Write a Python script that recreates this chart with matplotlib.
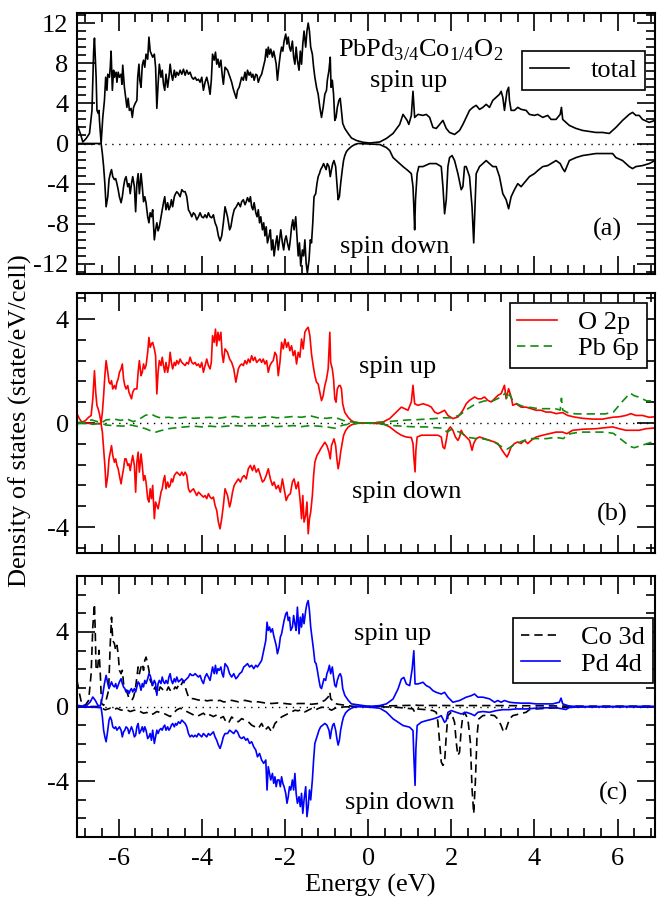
import numpy as np
import matplotlib
matplotlib.use("Agg")
import matplotlib.pyplot as plt
import matplotlib.ticker as ticker

plt.rcParams['font.family'] = ['Liberation Serif', 'DejaVu Serif']
plt.rcParams['mathtext.fontset'] = 'custom'
plt.rcParams['mathtext.rm'] = 'Liberation Serif'
plt.rcParams['axes.unicode_minus'] = False
FS = 19

# ---- panel (a): total DOS ----
e_tot_up = [-7.00, -6.92, -6.86, -6.78, -6.70, -6.64, -6.60, -6.58, -6.54, -6.52, -6.49, -6.47, -6.46, -6.42,
            -6.38, -6.34, -6.31, -6.28, -6.26, -6.22, -6.20, -6.18, -6.15, -6.12, -6.10, -6.06, -6.04, -6.01,
            -5.98, -5.94, -5.92, -5.90, -5.86, -5.83, -5.80, -5.77, -5.74, -5.70, -5.67, -5.64, -5.60, -5.56,
            -5.54, -5.51, -5.49, -5.46, -5.43, -5.40, -5.37, -5.34, -5.30, -5.27, -5.24, -5.21, -5.18, -5.14,
            -5.11, -5.08, -5.05, -5.02, -4.98, -4.95, -4.92, -4.89, -4.86, -4.82, -4.79, -4.76, -4.73, -4.70,
            -4.66, -4.63, -4.60, -4.56, -4.52, -4.48, -4.44, -4.40, -4.36, -4.32, -4.28, -4.24, -4.20, -4.16,
            -4.12, -4.08, -4.04, -4.00, -3.96, -3.92, -3.88, -3.84, -3.80, -3.77, -3.74, -3.70, -3.67, -3.64,
            -3.61, -3.58, -3.54, -3.51, -3.48,
            -3.44, -3.38, -3.32, -3.28, -3.24, -3.20, -3.17, -3.14, -3.10, -3.07, -3.04, -3.00, -2.96, -2.93,
            -2.90, -2.86, -2.83, -2.80, -2.77, -2.74, -2.70, -2.67, -2.64, -2.60, -2.56, -2.52, -2.48, -2.45,
            -2.42, -2.40, -2.37, -2.34, -2.30, -2.27, -2.24, -2.21, -2.18, -2.14, -2.11, -2.08, -2.05, -2.02,
            -1.98, -1.95, -1.92, -1.89, -1.86, -1.82, -1.79, -1.76, -1.73, -1.70, -1.66, -1.63, -1.60, -1.57,
            -1.54, -1.50, -1.47, -1.44, -1.41, -1.38, -1.34, -1.31, -1.28, -1.24, -1.20, -1.16, -1.12, -1.08,
            -1.04, -1.00, -0.98, -0.94, -0.91, -0.89, -0.86, -0.83, -0.80, -0.77, -0.74, -0.70, -0.67, -0.64,
            -0.61, -0.56, -0.48, -0.40, -0.28, -0.12, 0.04, 0.28, 0.44, 0.60, 0.76, 0.84, 0.94, 0.98, 1.04,
            1.08, 1.12, 1.20, 1.32, 1.40, 1.48, 1.56, 1.64, 1.72, 1.80, 1.88, 1.96, 2.08, 2.20, 2.28, 2.36,
            2.44, 2.52, 2.60, 2.68, 2.76, 2.84, 2.92, 3.00, 3.08, 3.16, 3.20, 3.24, 3.28, 3.34, 3.38, 3.40,
            3.44, 3.52, 3.60, 3.68, 3.80, 3.88, 4.00, 4.08, 4.20, 4.32, 4.40, 4.52, 4.62, 4.65, 4.68, 4.76,
            4.84, 5.00, 5.16, 5.32, 5.48, 5.64, 5.80, 5.96, 6.12, 6.20, 6.28, 6.36, 6.44, 6.52, 6.60, 6.76, 6.90]
tot_up = [1.9, 1.0, 0.15, 0.5, 1.0, 3.3, 9.2, 10.5, 6.6, 3.3, 3.0, 3.3, 2.3, 0.0,
          2.6, 4.3, 6.6, 5.3, 6.9, 6.6, 7.6, 9.2, 5.3, 7.3, 6.6, 7.1, 6.1, 7.1,
          6.6, 6.9, 5.9, 7.8, 5.6, 4.6, 3.6, 4.5, 3.3, 3.5, 2.6, 3.6, 4.0, 4.3,
          6.6, 7.9, 6.3, 5.6, 7.8, 8.3, 7.6, 8.9, 8.4, 10.6, 9.2, 8.9, 8.6, 8.9,
          7.6, 3.5, 5.9, 7.9, 6.6, 7.3, 5.9, 5.3, 6.9, 5.6, 6.6, 7.9, 6.9, 6.3,
          7.3, 6.6, 7.1, 6.8, 7.3, 6.9, 7.4, 6.8, 7.3, 6.9, 7.1, 6.6, 6.4, 6.6,
          6.3, 6.4, 6.1, 6.6, 5.3, 6.1, 6.6, 5.9, 4.9, 6.3, 8.9, 8.3, 9.1, 7.9,
          8.4, 7.6, 8.3, 6.9, 5.9,
          7.6, 7.3, 6.6, 6.1, 5.4, 4.9, 4.5, 5.3, 5.6, 6.1, 6.6, 6.3, 7.1, 6.3,
          7.3, 6.8, 7.1, 6.6, 6.9, 6.3, 6.9, 6.8, 6.1, 6.6, 6.9, 7.6, 8.3, 9.4,
          8.6, 9.6, 8.9, 9.4, 8.6, 9.2, 8.6, 7.9, 6.3, 7.9, 8.9, 9.6, 9.2, 10.2,
          10.9, 9.9, 10.6, 9.6, 9.2, 10.2, 8.6, 7.9, 9.6, 8.3, 7.3, 9.2, 7.9, 9.9,
          11.2, 9.6, 11.2, 12.0, 11.2, 9.6, 8.9, 7.6, 6.6, 5.6, 4.9, 3.6, 2.6, 3.6,
          4.9, 5.3, 6.3, 7.3, 8.6, 5.6, 6.3, 4.9, 2.3, 2.6, 3.6, 4.3, 4.5, 3.3,
          2.0, 1.5, 1.0, 0.55, 0.3, 0.12, 0.05, 0.15, 0.5, 1.0, 1.9, 2.9, 2.3, 1.9, 2.8,
          5.2, 2.6, 2.9, 2.8, 2.9, 2.6, 1.6, 1.5, 1.9, 2.3, 1.5, 1.1, 0.9, 1.3, 1.9, 2.6,
          3.3, 3.6, 3.8, 3.4, 3.6, 3.9, 3.6, 4.3, 4.6, 4.9, 5.2, 4.6, 3.3, 5.2, 5.6, 4.3,
          3.3, 3.3, 3.6, 3.4, 3.3, 2.9, 2.8, 2.9, 2.6, 2.8, 2.4, 2.4, 2.9, 3.6, 2.4, 2.1,
          1.8, 1.5, 1.3, 1.2, 1.1, 1.1, 1.0, 1.6, 2.3, 2.6, 2.9, 3.1, 2.8, 2.8, 2.4, 2.1, 2.3]

e_tot_dn = [-7.00, -6.42, -6.39, -6.36, -6.33, -6.30, -6.26, -6.23, -6.20, -6.17, -6.14, -6.10, -6.07, -6.04,
            -6.01, -5.98, -5.94, -5.91, -5.88, -5.85, -5.82, -5.78, -5.75, -5.72, -5.69, -5.66, -5.62, -5.59,
            -5.56, -5.53, -5.50, -5.46, -5.43, -5.40, -5.37, -5.34, -5.30, -5.27, -5.24, -5.21, -5.18, -5.14,
            -5.11, -5.08, -5.05, -5.02, -4.98, -4.95, -4.92, -4.89, -4.86, -4.82, -4.79, -4.76, -4.73, -4.70,
            -4.66, -4.63, -4.60, -4.56, -4.52, -4.48, -4.44, -4.40, -4.36, -4.32, -4.28, -4.24, -4.20, -4.16,
            -4.12, -4.08, -4.04, -4.00, -3.96, -3.92, -3.88, -3.84, -3.80, -3.76, -3.72, -3.68, -3.64, -3.60,
            -3.56, -3.52, -3.48,
            -3.44, -3.38, -3.33, -3.30, -3.26, -3.22, -3.17, -3.12, -3.07, -3.04, -3.00, -2.96, -2.93, -2.90,
            -2.86, -2.83, -2.80, -2.77, -2.74, -2.70, -2.67, -2.64, -2.61, -2.58, -2.54, -2.51, -2.48, -2.45,
            -2.42, -2.38, -2.35, -2.32, -2.29, -2.26, -2.22, -2.19, -2.16, -2.13, -2.10, -2.06, -2.03, -2.00,
            -1.97, -1.94, -1.90, -1.87, -1.84, -1.81, -1.78, -1.74, -1.71, -1.68, -1.65, -1.62, -1.58, -1.55,
            -1.52, -1.49, -1.46, -1.42, -1.39, -1.36, -1.33, -1.30, -1.26, -1.23, -1.20, -1.17, -1.14, -1.10,
            -1.07, -1.04, -1.01, -0.98, -0.94, -0.91, -0.88, -0.85, -0.82, -0.78, -0.75, -0.72, -0.69, -0.66,
            -0.62, -0.59, -0.56, -0.52, -0.48, -0.40, -0.32, -0.24, 0.28, 0.44, 0.52, 0.60, 0.68, 0.76, 0.84,
            0.96, 1.04, 1.08, 1.10, 1.12, 1.14, 1.18, 1.22, 1.32, 1.48, 1.64, 1.76, 1.80, 1.84, 1.88, 1.92,
            1.96, 2.02, 2.08, 2.16, 2.24, 2.28, 2.32, 2.36, 2.44, 2.50, 2.54, 2.57, 2.60, 2.68, 2.76, 2.84,
            2.92, 3.00, 3.08, 3.16, 3.24, 3.32, 3.38, 3.44, 3.52, 3.60, 3.68, 3.80, 3.88, 4.00, 4.08, 4.20,
            4.32, 4.40, 4.52, 4.62, 4.68, 4.73, 4.78, 4.84, 5.00, 5.16, 5.32, 5.48, 5.64, 5.80, 5.88, 5.96,
            6.12, 6.28, 6.36, 6.44, 6.60, 6.76, 6.90]
tot_dn = [0.0, 0.0, -1.0, -2.3, -4.0, -6.3, -5.3, -3.6, -3.0, -2.6, -3.3, -3.6, -3.5, -4.0,
          -4.6, -5.3, -5.9, -5.3, -4.3, -3.6, -3.3, -4.3, -4.0, -5.0, -4.0, -3.3, -4.3, -6.8,
          -4.0, -3.0, -5.0, -3.0, -4.3, -5.8, -5.3, -5.9, -7.3, -7.9, -6.9, -7.3, -6.6, -9.6,
          -8.6, -7.9, -8.7, -8.3, -7.3, -6.6, -5.9, -5.3, -6.6, -5.9, -6.6, -6.3, -5.6, -6.3,
          -5.3, -5.0, -4.8, -5.0, -5.3, -4.6, -4.8, -4.8, -5.3, -6.6, -6.9, -7.3, -6.9, -7.1,
          -7.6, -7.3, -6.9, -7.3, -7.4, -7.1, -7.4, -6.9, -7.3, -7.4, -7.1, -7.9, -8.3, -9.2,
          -9.7, -9.2, -7.9,
          -6.3, -7.3, -8.6, -8.3, -7.3, -6.6, -6.3, -5.9, -6.3, -5.8, -5.6, -6.1, -5.8, -5.4,
          -5.8, -5.3, -6.3, -6.6, -5.9, -6.9, -7.3, -6.6, -7.9, -7.3, -8.6, -7.9, -9.2, -8.3,
          -9.9, -9.2, -8.6, -10.6, -9.6, -11.2, -9.9, -9.2, -10.6, -9.6, -8.6, -9.9, -10.6, -9.6,
          -9.2, -9.9, -10.6, -9.6, -8.3, -7.6, -8.6, -7.3, -9.2, -11.2, -9.9, -12.2, -10.6, -11.2,
          -9.6, -11.9, -12.9, -11.6, -9.6, -9.9, -7.9, -5.3, -5.0, -4.0, -3.3, -3.0, -2.6, -2.3,
          -2.0, -2.3, -2.6, -2.0, -2.3, -3.3, -2.6, -2.0, -1.7, -2.3, -4.0, -5.6, -5.3, -4.0,
          -2.6, -1.7, -1.2, -0.8, -0.6, -0.3, -0.1, 0.0, -0.1, -0.4, -0.7, -1.4, -1.7, -2.0, -2.3,
          -2.7, -3.0, -4.3, -6.3, -8.6, -5.6, -3.0, -2.3, -2.3, -2.0, -2.0, -2.3, -4.3, -7.0, -5.6, -2.3,
          -1.4, -1.2, -1.7, -3.0, -4.6, -4.3, -2.3, -2.3, -3.3, -6.3, -9.9, -6.3, -3.0, -2.3, -2.0, -1.7,
          -2.0, -2.3, -2.3, -3.3, -5.0, -5.6, -6.5, -5.3, -4.6, -4.0, -4.3, -3.7, -3.3, -3.0, -2.7, -2.3,
          -2.2, -2.0, -1.7, -2.0, -2.5, -2.8, -2.3, -1.7, -1.4, -1.2, -1.1, -1.0, -1.0, -1.0, -1.0, -1.4,
          -1.7, -2.3, -2.5, -2.3, -2.2, -2.0, -1.7]

# ---- panel (b): O 2p and Pb 6p ----
e_o_up = [-7.00, -6.94, -6.88, -6.80, -6.72, -6.66, -6.62, -6.58, -6.55, -6.52, -6.49, -6.46, -6.42, -6.39,
          -6.36, -6.33, -6.30, -6.26, -6.23, -6.20, -6.17, -6.14, -6.10, -6.07, -6.04, -6.01, -5.98, -5.94,
          -5.91, -5.88, -5.85, -5.82, -5.78, -5.75, -5.72, -5.69, -5.66, -5.62, -5.59, -5.56, -5.53, -5.50,
          -5.46, -5.43, -5.40, -5.37, -5.34, -5.30, -5.27, -5.24, -5.21, -5.18, -5.14, -5.11, -5.08, -5.05,
          -5.02, -4.98, -4.95, -4.92, -4.89, -4.86, -4.82, -4.79, -4.76, -4.73, -4.70, -4.66, -4.63, -4.60,
          -4.56, -4.52, -4.48, -4.44, -4.40, -4.36, -4.32, -4.28, -4.24, -4.20, -4.16, -4.12, -4.08, -4.04,
          -4.00, -3.96, -3.92, -3.88, -3.84, -3.80, -3.77, -3.74, -3.70, -3.67, -3.64, -3.61, -3.58, -3.54,
          -3.51, -3.48,
          -3.44, -3.38, -3.33, -3.28, -3.23, -3.18, -3.15, -3.12, -3.08, -3.04, -3.00, -2.96, -2.92, -2.88,
          -2.84, -2.80, -2.76, -2.72, -2.68, -2.64, -2.60, -2.56, -2.52, -2.48, -2.44, -2.40, -2.36, -2.32,
          -2.28, -2.24, -2.20, -2.16, -2.12, -2.08, -2.04, -2.00, -1.96, -1.92, -1.88, -1.84, -1.80, -1.76,
          -1.72, -1.68, -1.64, -1.60, -1.56, -1.52, -1.48, -1.44, -1.40, -1.36, -1.32, -1.28, -1.24, -1.20,
          -1.16, -1.12, -1.08, -1.04, -1.00, -0.96, -0.92, -0.90, -0.86, -0.83, -0.80, -0.77, -0.74, -0.70,
          -0.67, -0.64, -0.61, -0.56, -0.48, -0.40, -0.32, -0.24, -0.12, 0.12, 0.36, 0.52, 0.68, 0.80, 0.88,
          0.96, 1.04, 1.08, 1.12, 1.20, 1.32, 1.44, 1.52, 1.60, 1.68, 1.76, 1.84, 1.92, 2.04, 2.16, 2.28,
          2.36, 2.44, 2.56, 2.64, 2.72, 2.80, 2.88, 2.96, 3.04, 3.12, 3.20, 3.28, 3.32, 3.38, 3.44, 3.48,
          3.56, 3.68, 3.80, 3.92, 4.04, 4.16, 4.28, 4.40, 4.52, 4.68, 4.80, 4.96, 5.16, 5.40, 5.64, 5.88,
          6.04, 6.20, 6.32, 6.44, 6.60, 6.76, 6.90]
o_up = [0.35, 0.16, 0.03, 0.09, 0.22, 0.29, 0.93, 2.01, 1.18, 0.67, 0.54, 0.35, 0.0, 0.41,
        1.05, 1.82, 2.40, 1.95, 1.57, 1.50, 1.63, 1.31, 1.44, 1.31, 1.57, 1.69, 1.95, 2.08,
        2.27, 1.69, 1.44, 1.31, 1.44, 1.18, 1.05, 0.93, 1.18, 1.31, 1.31, 1.31, 1.95, 2.40,
        1.82, 1.95, 2.27, 2.08, 2.21, 2.72, 3.29, 2.91, 3.04, 3.10, 2.85, 2.59, 1.12, 1.95,
        2.40, 2.21, 2.53, 2.21, 1.95, 2.33, 1.95, 2.21, 2.72, 2.33, 2.08, 2.33, 2.21, 2.40,
        2.27, 2.46, 2.33, 2.27, 2.21, 2.33, 2.27, 2.53, 2.33, 2.27, 2.33, 2.21, 2.27, 2.14,
        2.33, 1.95, 2.21, 2.46, 2.21, 2.08, 2.33, 3.36, 3.10, 3.61, 2.97, 3.49, 3.17, 3.49,
        2.65, 2.33,
        2.85, 2.72, 2.46, 2.33, 2.08, 1.57, 1.82, 2.08, 2.21, 2.27, 2.21, 2.40, 2.27, 2.46,
        2.33, 2.59, 2.40, 2.53, 2.33, 2.40, 2.46, 2.33, 2.46, 2.27, 2.40, 1.95, 2.21, 2.33,
        2.40, 2.72, 2.59, 1.82, 2.33, 3.10, 2.85, 3.23, 2.91, 3.10, 2.78, 2.97, 2.59, 2.78,
        2.27, 2.72, 2.53, 3.23, 2.85, 3.49, 3.61, 3.68, 3.36, 2.65, 2.21, 1.82, 1.57, 1.50,
        1.18, 0.86, 1.05, 1.44, 1.69, 2.08, 3.49, 2.33, 2.08, 1.69, 0.93, 0.80, 1.31, 1.44,
        1.44, 1.31, 0.73, 0.41, 0.22, 0.09, 0.03, 0.01, 0.0, 0.0, 0.04, 0.17, 0.42, 0.61, 0.55,
        0.49, 0.81, 1.45, 0.74, 0.68, 0.74, 0.68, 0.61, 0.42, 0.36, 0.42, 0.49, 0.29, 0.17, 0.23, 0.49,
        0.74, 0.87, 1.00, 0.93, 0.93, 1.00, 0.87, 0.81, 0.93, 1.06, 1.13, 1.45, 0.93, 1.32, 1.00, 0.68,
        0.74, 0.61, 0.61, 0.55, 0.49, 0.49, 0.42, 0.42, 0.36, 0.40, 0.29, 0.23, 0.18, 0.15, 0.15, 0.22,
        0.24, 0.29, 0.36, 0.29, 0.29, 0.22, 0.24]

e_o_dn = [-7.00, -6.42, -6.39, -6.36, -6.33, -6.30, -6.26, -6.23, -6.20, -6.17, -6.14, -6.10, -6.07, -6.04,
          -6.01, -5.98, -5.94, -5.91, -5.88, -5.85, -5.82, -5.78, -5.75, -5.72, -5.69, -5.66, -5.62, -5.59,
          -5.56, -5.53, -5.50, -5.46, -5.43, -5.40, -5.37, -5.34, -5.30, -5.27, -5.24, -5.21, -5.18, -5.14,
          -5.11, -5.08, -5.05, -5.02, -4.98, -4.95, -4.92, -4.89, -4.86, -4.82, -4.79, -4.76, -4.73, -4.70,
          -4.66, -4.63, -4.60, -4.56, -4.52, -4.48, -4.44, -4.40, -4.36, -4.32, -4.28, -4.24, -4.20, -4.16,
          -4.12, -4.08, -4.04, -4.00, -3.96, -3.92, -3.88, -3.84, -3.80, -3.76, -3.72, -3.68, -3.64, -3.60,
          -3.56, -3.52, -3.48,
          -3.44, -3.38, -3.33, -3.30, -3.26, -3.22, -3.17, -3.12, -3.07, -3.02, -2.98, -2.93, -2.88, -2.83,
          -2.78, -2.74, -2.69, -2.64, -2.59, -2.54, -2.50, -2.45, -2.40, -2.35, -2.30, -2.26, -2.21, -2.16,
          -2.11, -2.06, -2.02, -1.97, -1.92, -1.87, -1.82, -1.78, -1.73, -1.68, -1.63, -1.60, -1.57, -1.54,
          -1.50, -1.47, -1.44, -1.41, -1.38, -1.34, -1.31, -1.28, -1.23, -1.18, -1.14, -1.09, -1.04, -0.99,
          -0.94, -0.91, -0.88, -0.85, -0.82, -0.78, -0.75, -0.72, -0.69, -0.66, -0.62, -0.59, -0.54, -0.48,
          -0.40, -0.32, -0.24, 0.12, 0.36, 0.52, 0.68, 0.80, 0.92, 1.04, 1.08, 1.10, 1.13, 1.15, 1.18,
          1.28, 1.48, 1.68, 1.76, 1.80, 1.84, 1.88, 1.92, 1.98, 2.04, 2.10, 2.16, 2.20, 2.24, 2.28, 2.36,
          2.44, 2.50, 2.54, 2.60, 2.68, 2.80, 2.92, 3.04, 3.12, 3.20, 3.28, 3.34, 3.38, 3.44, 3.52, 3.60,
          3.68, 3.76, 3.84, 3.92, 4.04, 4.20, 4.36, 4.52, 4.68, 4.78, 4.92, 5.16, 5.48, 5.72, 5.88, 6.04,
          6.20, 6.36, 6.52, 6.68, 6.90]
o_dn = [0.0, -0.03, -0.35, -0.99, -1.63, -2.47, -2.02, -1.38, -1.12, -0.87, -1.25, -1.51, -1.38, -1.63,
        -1.76, -2.02, -2.34, -2.02, -1.76, -1.38, -1.38, -1.63, -1.57, -1.83, -1.51, -1.25, -1.63, -2.66,
        -1.51, -1.12, -1.89, -1.19, -1.63, -2.21, -2.02, -2.27, -2.91, -3.04, -2.53, -2.91, -2.40, -3.68,
        -3.04, -3.17, -3.30, -3.04, -2.66, -2.53, -2.21, -2.02, -2.53, -2.27, -2.47, -2.40, -2.15, -2.27,
        -2.02, -1.95, -1.89, -1.95, -2.02, -1.89, -2.02, -1.89, -2.02, -2.53, -2.66, -2.59, -2.53, -2.66,
        -2.79, -2.66, -2.72, -2.79, -2.85, -2.79, -2.91, -2.72, -2.85, -2.91, -2.85, -3.17, -3.36, -3.81,
        -4.07, -3.68, -3.17,
        -2.53, -2.79, -3.23, -3.04, -2.66, -2.40, -2.27, -2.15, -2.27, -2.08, -2.02, -2.15, -1.76, -1.63,
        -1.83, -1.63, -1.89, -1.76, -2.02, -2.27, -2.21, -2.02, -1.76, -2.15, -2.40, -2.27, -2.53, -2.40,
        -2.66, -2.15, -2.53, -2.98, -2.79, -2.72, -2.27, -2.15, -2.53, -2.27, -3.04, -3.68, -2.79, -3.81,
        -3.55, -3.04, -4.26, -3.68, -3.43, -2.79, -2.02, -1.51, -1.25, -1.12, -0.99, -0.87, -0.74, -0.87,
        -1.12, -1.38, -0.87, -0.74, -0.61, -0.87, -1.38, -1.76, -1.51, -1.12, -0.74, -0.48, -0.29, -0.16,
        -0.07, -0.03, 0.0, -0.01, -0.03, -0.15, -0.35, -0.47, -0.54, -0.56, -0.79, -1.31, -1.88, -1.05, -0.54,
        -0.47, -0.47, -0.47, -0.54, -0.92, -0.99, -0.67, -0.28, -0.15, -0.28, -0.54, -0.67, -0.54, -0.28, -0.41, -0.54,
        -0.67, -1.05, -0.79, -0.60, -0.54, -0.60, -0.67, -0.73, -0.79, -0.99, -1.18, -1.31, -1.18, -0.92, -0.79, -0.73,
        -0.79, -0.67, -0.79, -0.67, -0.54, -0.47, -0.41, -0.35, -0.35, -0.41, -0.28, -0.24, -0.22, -0.18, -0.15, -0.22,
        -0.28, -0.28, -0.28, -0.22, -0.19]

e_pb_up = [-7.0, -6.8, -6.65, -6.5, -6.42, -6.3, -6.1, -5.95, -5.8, -5.65, -5.5, -5.35, -5.2, -5.1, -5.0,
           -4.8, -4.6, -4.4, -4.2, -4.0, -3.8, -3.6, -3.4, -3.2, -3.0, -2.8, -2.6, -2.4, -2.2, -2.0, -1.8,
           -1.6, -1.4, -1.2, -1.0, -0.8, -0.6, -0.4, -0.2, 0.0, 0.2, 0.4, 0.6, 0.8, 1.0, 1.2, 1.4, 1.6,
           1.8, 2.0, 2.2, 2.4, 2.6, 2.8, 3.0, 3.2, 3.3, 3.35, 3.4, 3.5, 3.7, 3.9, 4.1, 4.3, 4.5, 4.62,
           4.65, 4.68, 4.8, 5.0, 5.3, 5.5, 5.7, 5.9, 6.1, 6.3, 6.4, 6.5, 6.7, 6.9]
pb_up = [0.02, 0.03, 0.12, 0.05, 0.0, 0.12, 0.15, 0.1, 0.16, 0.05, 0.15, 0.3, 0.33, 0.25, 0.2,
         0.22, 0.18, 0.22, 0.18, 0.2, 0.22, 0.18, 0.23, 0.25, 0.2, 0.22, 0.2, 0.25, 0.2, 0.22, 0.25,
         0.22, 0.28, 0.2, 0.18, 0.22, 0.1, 0.04, 0.01, 0.0, 0.02, 0.04, 0.07, 0.1, 0.12, 0.13, 0.15, 0.17,
         0.2, 0.2, 0.3, 0.55, 0.75, 0.85, 0.85, 1.0, 1.15, 0.9, 1.1, 0.8, 0.65, 0.6, 0.55, 0.55, 0.55, 0.5,
         0.95, 0.5, 0.4, 0.35, 0.35, 0.35, 0.35, 0.42, 0.8, 1.15, 1.05, 1.0, 0.85, 0.85]

e_pb_dn = [-7.0, -6.8, -6.6, -6.42, -6.3, -6.1, -5.9, -5.7, -5.5, -5.35, -5.2, -5.1, -5.0, -4.8, -4.6,
           -4.4, -4.2, -4.0, -3.8, -3.6, -3.4, -3.2, -3.0, -2.8, -2.6, -2.4, -2.2, -2.0, -1.8, -1.6, -1.4,
           -1.2, -1.0, -0.8, -0.6, -0.4, -0.2, 0.0, 0.2, 0.4, 0.6, 0.8, 1.0, 1.2, 1.4, 1.6, 1.8, 1.9,
           2.0, 2.2, 2.4, 2.6, 2.8, 3.0, 3.2, 3.35, 3.5, 3.7, 3.9, 4.1, 4.3, 4.5, 4.7, 4.78, 4.9, 5.1,
           5.4, 5.7, 5.9, 6.1, 6.3, 6.4, 6.6, 6.9]
pb_dn = [-0.02, -0.02, -0.05, 0.0, -0.08, -0.1, -0.12, -0.08, -0.15, -0.22, -0.32, -0.35, -0.3, -0.22, -0.18,
         -0.15, -0.12, -0.15, -0.12, -0.15, -0.12, -0.1, -0.12, -0.1, -0.12, -0.1, -0.14, -0.12, -0.1, -0.14, -0.1,
         -0.12, -0.15, -0.2, -0.08, -0.03, -0.01, 0.0, -0.02, -0.06, -0.1, -0.12, -0.14, -0.15, -0.15, -0.18, -0.2, -0.35,
         -0.25, -0.35, -0.55, -0.6, -0.62, -0.7, -0.9, -1.0, -0.85, -0.7, -0.6, -0.6, -0.6, -0.55, -0.6, -0.45, -0.4, -0.35,
         -0.35, -0.35, -0.4, -0.65, -0.9, -0.95, -0.85, -0.7]

# ---- panel (c): Co 3d and Pd 4d ----
e_co_up = [-7.00, -6.94, -6.88, -6.80, -6.72, -6.66, -6.62, -6.58, -6.56, -6.54, -6.50, -6.47, -6.44, -6.41,
           -6.36, -6.30, -6.24, -6.20, -6.17, -6.14, -6.10, -6.07, -6.04, -6.01, -5.98, -5.94, -5.91, -5.88,
           -5.84, -5.80, -5.76, -5.72, -5.68, -5.64, -5.60, -5.56, -5.53, -5.50, -5.46, -5.43, -5.40, -5.37,
           -5.34, -5.30, -5.27, -5.24, -5.20, -5.16, -5.12, -5.08, -5.04, -5.00, -4.96, -4.92, -4.88, -4.84,
           -4.80, -4.76, -4.72, -4.68, -4.64, -4.60, -4.56, -4.52, -4.48, -4.44, -4.40, -4.36, -4.32, -4.28,
           -4.20, -4.12, -4.04, -3.96, -3.88, -3.80, -3.72, -3.64, -3.56, -3.48,
           -3.44, -3.28, -3.12, -2.96, -2.80, -2.64, -2.48, -2.32, -2.16, -2.00, -1.84, -1.68, -1.52, -1.36,
           -1.20, -1.12, -1.04, -0.96, -0.92, -0.90, -0.86, -0.80, -0.72, -0.56, -0.40, -0.24, 0.0, 0.4,
           1.0, 1.1, 1.2, 2.0, 3.0, 4.0, 5.0, 6.9]
co_up = [1.40, 0.69, 0.07, 0.07, 0.33, 1.76, 4.26, 5.50, 3.90, 1.94, 2.12, 3.01, 1.76, 0.16,
         0.07, 0.33, 0.87, 3.37, 4.79, 3.54, 3.37, 3.01, 3.28, 2.83, 1.94, 1.76, 1.94, 1.23,
         0.96, 0.78, 0.51, 0.42, 0.33, 0.51, 0.87, 1.58, 2.12, 1.76, 2.12, 2.30, 1.94, 2.47,
         2.65, 2.30, 1.94, 1.40, 1.23, 0.87, 1.05, 0.69, 0.78, 1.05, 0.96, 0.87, 0.96, 0.87,
         1.05, 0.87, 0.96, 0.87, 1.05, 0.96, 1.14, 1.05, 1.23, 1.40, 1.05, 0.78, 0.51, 0.42,
         0.42, 0.37, 0.33, 0.37, 0.30, 0.33, 0.33, 0.30, 0.33, 0.25,
         0.25, 0.33, 0.25, 0.33, 0.25, 0.25, 0.19, 0.16, 0.19, 0.16, 0.12, 0.16, 0.16, 0.12,
         0.16, 0.25, 0.33, 0.51, 0.78, 0.42, 0.33, 0.16, 0.12, 0.07, 0.02, 0.0, 0.0, 0.03,
         0.06, 0.1, 0.06, 0.05, 0.05, 0.04, 0.02, 0.01]

e_co_dn = [-7.00, -6.44, -6.40, -6.32, -6.20, -6.12, -6.04, -5.96, -5.88, -5.80, -5.72, -5.64, -5.56, -5.48,
           -5.40, -5.32, -5.24, -5.16, -5.08, -5.00, -4.92, -4.84, -4.76, -4.68, -4.60, -4.52, -4.44, -4.36,
           -4.28, -4.20, -4.12, -4.04, -3.96, -3.88, -3.80, -3.72, -3.64, -3.56, -3.48,
           -3.44, -3.36, -3.28, -3.20, -3.12, -3.04, -2.96, -2.88, -2.80, -2.72, -2.64, -2.56, -2.48, -2.40,
           -2.32, -2.24, -2.16, -2.08, -2.00, -1.92, -1.84, -1.76, -1.68, -1.60, -1.52, -1.44, -1.36, -1.28,
           -1.20, -1.12, -1.04, -0.96, -0.88, -0.80, -0.72, -0.56, -0.24, 0.04, 0.68, 1.08, 1.12, 1.16,
           1.40, 1.56, 1.64, 1.68, 1.72, 1.76, 1.80, 1.84, 1.88, 1.92, 2.00, 2.08, 2.12, 2.16, 2.20, 2.24,
           2.28, 2.32, 2.40, 2.46, 2.50, 2.54, 2.58, 2.62, 2.66, 2.76, 2.92, 3.04, 3.12, 3.20, 3.26, 3.32,
           3.40, 3.48, 3.64, 3.80, 3.88, 4.04, 4.36, 4.68, 5.16, 6.90]
co_dn = [0.0, 0.0, -0.09, -0.18, -0.09, -0.18, -0.09, -0.18, -0.21, -0.18, -0.27, -0.21, -0.18, -0.27,
         -0.36, -0.32, -0.45, -0.39, -0.27, -0.32, -0.36, -0.45, -0.54, -0.36, -0.18, -0.09, -0.18, -0.27,
         -0.36, -0.45, -0.54, -0.45, -0.36, -0.54, -0.45, -0.54, -0.45, -0.63, -0.54,
         -0.73, -0.91, -0.56, -0.73, -0.82, -0.65, -0.73, -0.82, -1.00, -1.09, -1.18, -0.91, -1.27, -1.09,
         -1.36, -0.91, -0.73, -0.56, -0.47, -0.38, -0.29, -0.20, -0.23, -0.16, -0.29, -0.20, -0.11, -0.20,
         -0.11, -0.04, -0.05, -0.10, -0.20, -0.10, -0.05, -0.02, 0.0, 0.0, -0.04, -0.13, -0.30, -0.13,
         -0.17, -0.22, -0.31, -0.85, -1.92, -2.98, -3.16, -2.98, -1.56, -0.49, -0.31, -0.85, -1.92, -2.63, -2.45, -1.20,
         -0.49, -0.31, -0.67, -1.92, -4.41, -5.75, -4.05, -1.56, -0.67, -0.49, -0.45, -0.49, -0.67, -1.02, -1.38, -1.20,
         -0.67, -0.49, -0.40, -0.31, -0.17, -0.13, -0.09, -0.05, -0.02, 0.0]

e_pd_up = [-7.00, -6.88, -6.76, -6.68, -6.62, -6.56, -6.50, -6.44, -6.39, -6.34, -6.30, -6.26, -6.23, -6.20,
           -6.17, -6.14, -6.10, -6.07, -6.04, -6.01, -5.98, -5.94, -5.91, -5.88, -5.85, -5.82, -5.78, -5.75,
           -5.72, -5.69, -5.66, -5.62, -5.59, -5.56, -5.53, -5.50, -5.46, -5.43, -5.40, -5.37, -5.34, -5.30,
           -5.27, -5.24, -5.21, -5.18, -5.14, -5.11, -5.08, -5.05, -5.02, -4.98, -4.95, -4.92, -4.89, -4.86,
           -4.82, -4.79, -4.76, -4.73, -4.70, -4.66, -4.63, -4.60, -4.56, -4.52, -4.48, -4.44, -4.40, -4.36,
           -4.32, -4.28, -4.24, -4.20, -4.16, -4.12, -4.08, -4.04, -4.00, -3.96, -3.92, -3.88, -3.84, -3.80,
           -3.77, -3.74, -3.70, -3.67, -3.64, -3.61, -3.58, -3.54, -3.51, -3.48,
           -3.44, -3.38, -3.33, -3.28, -3.23, -3.18, -3.14, -3.09, -3.04, -2.99, -2.94, -2.90, -2.85, -2.80,
           -2.75, -2.70, -2.66, -2.61, -2.56, -2.51, -2.46, -2.43, -2.40, -2.37, -2.34, -2.30, -2.27, -2.24,
           -2.21, -2.18, -2.14, -2.11, -2.08, -2.05, -2.02, -1.98, -1.95, -1.92, -1.89, -1.86, -1.82, -1.79,
           -1.76, -1.73, -1.70, -1.66, -1.63, -1.60, -1.57, -1.54, -1.50, -1.47, -1.44, -1.41, -1.38, -1.34,
           -1.31, -1.28, -1.25, -1.22, -1.18, -1.15, -1.12, -1.09, -1.06, -1.02, -0.99, -0.96, -0.93, -0.90,
           -0.86, -0.83, -0.80, -0.77, -0.74, -0.70, -0.67, -0.64, -0.61, -0.56, -0.48, -0.40, -0.28, -0.12,
           0.04, 0.28, 0.44, 0.60, 0.72, 0.80, 0.86, 0.92, 1.00, 1.06, 1.10, 1.13, 1.20, 1.32, 1.40, 1.48,
           1.56, 1.64, 1.76, 1.84, 1.92, 2.04, 2.20, 2.36, 2.48, 2.56, 2.64, 2.76, 2.92, 3.04, 3.12, 3.20,
           3.28, 3.40, 3.52, 3.68, 3.88, 4.04, 4.20, 4.44, 4.60, 4.64, 4.68, 4.84, 5.16, 6.90]
pd_up = [0.07, 0.02, 0.07, 0.25, 0.51, 0.33, 0.07, 0.02, 0.51, 1.23, 1.67, 1.23, 0.96, 1.14,
         1.32, 1.14, 1.05, 1.23, 0.96, 1.14, 1.32, 1.49, 1.23, 1.05, 0.96, 0.78, 0.87, 0.69,
         0.87, 0.96, 0.78, 0.96, 0.78, 1.05, 1.32, 1.23, 0.87, 1.23, 1.05, 1.40, 1.23, 1.49,
         1.76, 1.67, 1.40, 1.14, 1.40, 1.23, 0.60, 1.23, 1.40, 1.23, 1.58, 1.32, 1.23, 1.40,
         1.23, 1.58, 1.76, 1.40, 1.23, 1.49, 1.32, 1.58, 1.32, 1.40, 1.49, 1.32, 1.40, 1.49,
         1.58, 1.76, 1.67, 1.67, 1.76, 1.67, 1.58, 1.67, 1.40, 1.23, 1.58, 1.76, 1.58, 1.40,
         1.76, 2.12, 1.76, 2.21, 1.76, 2.03, 1.94, 2.12, 1.76, 1.58,
         2.30, 2.12, 1.76, 1.58, 1.76, 1.49, 1.58, 1.76, 1.85, 2.12, 2.21, 2.30, 2.12, 2.21,
         2.03, 2.21, 2.12, 2.30, 2.47, 3.01, 3.54, 4.52, 4.08, 4.26, 3.99, 4.17, 3.81, 3.54,
         3.28, 2.83, 3.19, 3.72, 3.90, 4.26, 4.61, 4.97, 5.06, 4.61, 4.79, 4.08, 4.26, 4.88,
         4.44, 4.08, 5.33, 3.90, 4.79, 4.26, 4.97, 4.44, 5.15, 5.51, 5.68, 5.15, 4.26, 3.54,
         3.01, 2.39, 2.30, 1.94, 1.40, 1.05, 0.96, 1.23, 1.49, 1.40, 1.76, 1.94, 2.21, 1.76,
         2.12, 1.58, 1.14, 1.05, 1.40, 1.67, 1.76, 1.58, 0.96, 0.60, 0.34, 0.14, 0.1, 0.05,
         0.0, 0.05, 0.14, 0.40, 0.94, 1.47, 1.56, 1.21, 1.12, 2.01, 2.99, 1.21, 1.21, 1.30, 1.12, 1.03,
         0.85, 0.76, 0.67, 0.76, 0.50, 0.23, 0.32, 0.50, 0.58, 0.67, 0.50, 0.50, 0.41, 0.23, 0.32, 0.23,
         0.32, 0.23, 0.20, 0.18, 0.18, 0.14, 0.14, 0.14, 0.23, 0.45, 0.14, 0.02, 0.0, 0.0]

e_pd_dn = [-7.00, -6.42, -6.39, -6.36, -6.33, -6.30, -6.26, -6.23, -6.20, -6.17, -6.14, -6.10, -6.07, -6.04,
           -6.01, -5.98, -5.94, -5.91, -5.88, -5.85, -5.82, -5.78, -5.75, -5.72, -5.69, -5.66, -5.62, -5.59,
           -5.56, -5.53, -5.50, -5.46, -5.43, -5.40, -5.37, -5.34, -5.30, -5.27, -5.24, -5.21, -5.18, -5.14,
           -5.11, -5.08, -5.05, -5.02, -4.98, -4.95, -4.92, -4.89, -4.86, -4.82, -4.79, -4.76, -4.73, -4.70,
           -4.66, -4.63, -4.60, -4.56, -4.52, -4.48, -4.44, -4.40, -4.36, -4.32, -4.28, -4.24, -4.20, -4.16,
           -4.12, -4.08, -4.04, -4.00, -3.96, -3.92, -3.88, -3.84, -3.80, -3.76, -3.72, -3.68, -3.64, -3.60,
           -3.56, -3.52, -3.48,
           -3.44, -3.38, -3.33, -3.28, -3.23, -3.18, -3.14, -3.09, -3.04, -2.99, -2.94, -2.90, -2.85, -2.80,
           -2.75, -2.70, -2.66, -2.61, -2.56, -2.51, -2.46, -2.43, -2.40, -2.37, -2.34, -2.30, -2.27, -2.24,
           -2.21, -2.18, -2.14, -2.11, -2.08, -2.05, -2.02, -1.98, -1.95, -1.92, -1.89, -1.86, -1.82, -1.79,
           -1.76, -1.73, -1.70, -1.66, -1.63, -1.60, -1.57, -1.54, -1.50, -1.47, -1.44, -1.41, -1.38, -1.34,
           -1.31, -1.28, -1.23, -1.18, -1.14, -1.09, -1.04, -0.99, -0.94, -0.91, -0.88, -0.85, -0.82, -0.78,
           -0.75, -0.72, -0.69, -0.66, -0.62, -0.59, -0.54, -0.48, -0.40, -0.32, -0.24, 0.04, 0.28, 0.44,
           0.60, 0.72, 0.84, 1.00, 1.08, 1.10, 1.13, 1.15, 1.18, 1.28, 1.40, 1.56, 1.68, 1.76, 1.84, 1.88,
           1.92, 2.00, 2.12, 2.24, 2.36, 2.48, 2.56, 2.64, 2.76, 2.92, 3.08, 3.24, 3.40, 3.56, 3.80, 4.04,
           4.28, 4.52, 4.68, 4.76, 4.84, 5.16, 6.90]
pd_dn = [0.0, -0.06, -0.55, -1.27, -1.63, -1.89, -1.27, -0.73, -0.56, -0.73, -1.09, -1.18, -1.09, -1.27,
         -1.18, -1.09, -1.27, -1.63, -1.36, -1.27, -1.09, -1.18, -1.45, -1.27, -1.09, -1.27, -1.63, -1.54,
         -1.09, -0.91, -1.45, -1.27, -1.09, -1.36, -1.09, -1.27, -1.72, -1.63, -1.45, -1.81, -1.27, -1.98,
         -1.63, -1.27, -1.45, -1.27, -1.18, -1.27, -1.09, -1.00, -1.27, -1.09, -1.27, -1.18, -1.00, -0.91,
         -1.09, -0.91, -1.00, -0.82, -0.91, -0.73, -0.82, -0.91, -1.09, -1.45, -1.63, -1.54, -1.63, -1.54,
         -1.63, -1.45, -1.54, -1.63, -1.45, -1.54, -1.63, -1.45, -1.54, -1.45, -1.36, -1.63, -1.81, -2.07,
         -2.25, -1.98, -1.63,
         -1.45, -1.45, -1.27, -1.36, -1.45, -1.27, -1.36, -1.63, -1.72, -1.63, -1.81, -1.72, -1.98, -1.89,
         -2.16, -2.34, -2.70, -2.52, -2.87, -3.05, -2.87, -4.48, -3.23, -3.59, -3.94, -3.59, -4.12, -3.77,
         -4.30, -3.94, -3.94, -4.30, -3.77, -4.12, -4.30, -4.66, -5.19, -4.84, -4.30, -4.48, -3.94, -4.48,
         -3.59, -4.66, -5.19, -4.84, -5.37, -4.66, -5.73, -5.01, -4.30, -5.91, -5.37, -4.48, -5.01, -3.94,
         -2.87, -1.98, -1.63, -1.27, -1.09, -1.00, -0.91, -1.00, -1.27, -1.72, -1.27, -1.00, -0.91, -1.27,
         -1.72, -2.07, -1.81, -1.27, -0.82, -0.56, -0.34, -0.20, -0.09, -0.03, 0.0, -0.04, -0.09, -0.30,
         -0.66, -0.84, -1.02, -1.11, -1.29, -2.63, -4.23, -2.27, -1.02, -0.84, -0.76, -0.67, -0.58, -0.49, -0.85, -0.76,
         -0.31, -0.22, -0.31, -0.40, -0.31, -0.40, -0.49, -0.31, -0.27, -0.31, -0.22, -0.17, -0.17, -0.13, -0.13, -0.09,
         -0.07, -0.07, -0.13, -0.16, -0.05, -0.02, 0.0]

W, H = 657, 901
fig = plt.figure(figsize=(W / 100, H / 100), dpi=100)

def make_axes(top_px, bot_px):
    return fig.add_axes([77 / W, 1 - bot_px / H, 578 / W, (bot_px - top_px) / H])

ax_a = make_axes(13, 274)
ax_b = make_axes(293, 553)
ax_c = make_axes(576, 837)

lw = 1.2
dash = (0, (5, 3))
ax_a.plot(e_tot_up, tot_up, color='black', lw=lw, label='total')
ax_a.plot(e_tot_dn, tot_dn, color='black', lw=lw)

ax_b.plot(e_o_up, o_up, color='red', lw=lw, label='O 2p')
ax_b.plot(e_o_dn, o_dn, color='red', lw=lw)
pb_col = '#108c10'
ax_b.plot(e_pb_up, pb_up, color=pb_col, lw=lw, ls=dash, label='Pb 6p')
ax_b.plot(e_pb_dn, pb_dn, color=pb_col, lw=lw, ls=dash)

ax_c.plot(e_co_up, co_up, color='black', lw=lw, ls=dash, label='Co 3d')
ax_c.plot(e_co_dn, co_dn, color='black', lw=lw, ls=dash)
ax_c.plot(e_pd_up, pd_up, color='blue', lw=lw, label='Pd 4d')
ax_c.plot(e_pd_dn, pd_dn, color='blue', lw=lw)

ylims = [(-13, 13), (-5, 5), (-7, 7)]
minors = [0.8, 0.8, 1.0]
for ax, yl, mn in zip([ax_a, ax_b, ax_c], ylims, minors):
    ax.axhline(0, color='black', lw=1.0, ls=(0, (1, 4)), zorder=0)
    ax.set_xlim(-7, 6.9)
    ax.set_ylim(*yl)
    ax.xaxis.set_major_locator(ticker.MultipleLocator(2))
    ax.xaxis.set_minor_locator(ticker.MultipleLocator(0.4))
    ax.yaxis.set_major_locator(ticker.MultipleLocator(4))
    ax.yaxis.set_minor_locator(ticker.MultipleLocator(mn))
    ax.tick_params(which='both', direction='in', top=True, right=True, labelsize=FS, width=1.2)
    ax.tick_params(which='major', length=13, pad=6)
    ax.tick_params(which='minor', length=6.5)
    for s in ax.spines.values():
        s.set_linewidth(1.5)

ax_a.tick_params(labelbottom=False)
ax_b.tick_params(labelbottom=False)
ax_c.tick_params(axis='x', pad=8)

leg_kw = dict(fontsize=FS, frameon=True, fancybox=False, edgecolor='black', framealpha=1,
              borderaxespad=0, handlelength=1.5, handletextpad=0.8, borderpad=0.3, labelspacing=0.1)
la = ax_a.legend(loc='upper right', bbox_to_anchor=(0.983, 0.854), **leg_kw)
lb = ax_b.legend(loc='upper right', bbox_to_anchor=(0.986, 0.962), **leg_kw)
lc = ax_c.legend(loc='upper right', bbox_to_anchor=(0.997, 0.839), **leg_kw)
for lg in (la, lb, lc):
    lg.get_frame().set_linewidth(1.2)

ax_a.text(1.26, 9.3, r'PbPd$_{\mathrm{3/4}}$Co$_{\mathrm{1/4}}$O$_{\mathrm{2}}$', fontsize=FS, ha='center', va='center')
ax_a.text(0.97, 6.2, 'spin up', fontsize=FS, ha='center', va='center')
ax_a.text(0.63, -10.3, 'spin down', fontsize=FS, ha='center', va='center')
ax_a.text(5.76, -8.6, '(a)', fontsize=FS, ha='center', va='center')

ax_b.text(0.70, 2.15, 'spin up', fontsize=FS, ha='center', va='center')
ax_b.text(0.94, -2.65, 'spin down', fontsize=FS, ha='center', va='center')
ax_b.text(5.86, -3.5, '(b)', fontsize=FS, ha='center', va='center')

ax_c.text(0.60, 3.9, 'spin up', fontsize=FS, ha='center', va='center')
ax_c.text(0.75, -5.2, 'spin down', fontsize=FS, ha='center', va='center')
ax_c.text(5.9, -4.65, '(c)', fontsize=FS, ha='center', va='center')

fig.text(20 / W, 1 - 421 / H, 'Density of states (state/eV/cell)', fontsize=FS,
         rotation=90, ha='center', va='center')
fig.text(370 / W, 1 - 885 / H, 'Energy (eV)', fontsize=FS, ha='center', va='center')

fig.savefig('out.png', dpi=100)
